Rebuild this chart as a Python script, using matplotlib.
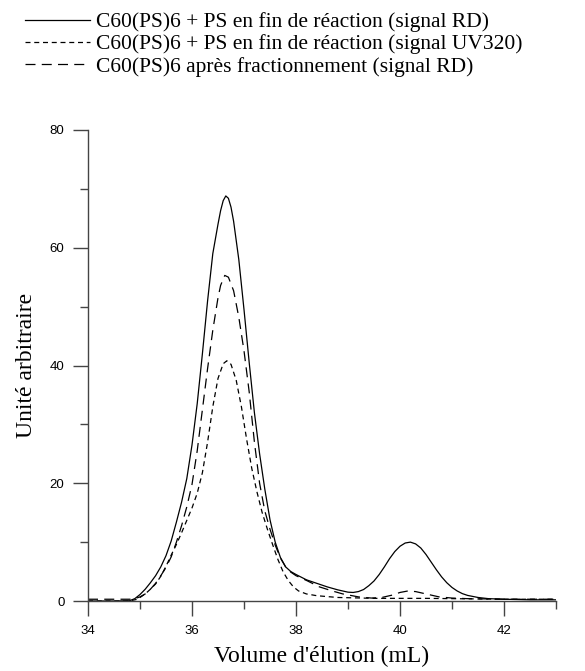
import matplotlib
matplotlib.use("Agg")
import matplotlib.pyplot as plt

# --- data (volume in mL, signal in arbitrary units) ---
vol_total = [34.0, 34.5, 34.8, 34.9, 35.0, 35.1, 35.2, 35.3, 35.4, 35.5, 35.6, 35.7,
             35.8, 35.9, 36.0, 36.1, 36.2, 36.3, 36.4, 36.5, 36.55, 36.6, 36.65, 36.7,
             36.75, 36.8, 36.9, 37.0, 37.1, 37.2, 37.3, 37.4, 37.5, 37.6, 37.7, 37.8,
             37.9, 38.0, 38.2, 38.4, 38.6, 38.8, 39.0, 39.1, 39.2, 39.3, 39.4, 39.5,
             39.6, 39.7, 39.8, 39.9, 40.0, 40.1, 40.2, 40.3, 40.4, 40.5, 40.6, 40.7,
             40.8, 40.9, 41.0, 41.1, 41.2, 41.3, 41.5, 41.7, 42.0, 42.5, 43.0]
rd_total = [0.0, 0.0, 0.05, 0.4, 1.1, 2.0, 3.1, 4.3, 5.8, 7.7, 10.2, 13.4,
            16.8, 20.8, 26.5, 33.5, 42.0, 51.0, 59.0, 64.0, 66.3, 68.0, 68.8, 68.4,
            66.9, 64.5, 58.0, 49.5, 40.5, 32.0, 25.0, 19.0, 13.8, 10.0, 7.4, 5.8,
            5.0, 4.5, 3.6, 3.0, 2.4, 1.9, 1.5, 1.45, 1.6, 1.95, 2.6, 3.4,
            4.5, 5.8, 7.2, 8.4, 9.3, 9.85, 10.0, 9.7, 9.0, 7.9, 6.6, 5.3,
            4.1, 3.1, 2.3, 1.7, 1.25, 0.95, 0.6, 0.4, 0.3, 0.2, 0.2]

vol_uv = [34.0, 34.8, 34.95, 35.1, 35.2, 35.3, 35.4, 35.5, 35.6, 35.7, 35.8, 35.9,
          36.0, 36.1, 36.2, 36.3, 36.4, 36.5, 36.6, 36.67, 36.75, 36.85, 36.95, 37.05,
          37.15, 37.25, 37.35, 37.45, 37.55, 37.65, 37.75, 37.85, 37.95, 38.05, 38.2,
          38.4, 38.8, 39.5, 40.0, 40.5, 41.0, 42.0, 43.0]
uv320 = [0.0, 0.0, 0.3, 1.2, 2.0, 2.9, 4.2, 5.9, 7.8, 9.6, 11.6, 13.7,
         15.8, 18.3, 21.8, 27.0, 33.0, 37.8, 40.3, 40.8, 40.2, 37.5, 33.0, 27.5,
         22.5, 18.5, 15.0, 12.2, 9.6, 7.1, 5.0, 3.5, 2.4, 1.7, 1.2,
         0.9, 0.6, 0.45, 0.45, 0.45, 0.4, 0.3, 0.3]

vol_frac = [34.0, 34.8, 34.9, 35.0, 35.1, 35.2, 35.3, 35.4, 35.5, 35.6, 35.7, 35.8,
            35.9, 36.0, 36.1, 36.2, 36.3, 36.4, 36.5, 36.55, 36.63, 36.7, 36.8, 36.9,
            37.0, 37.1, 37.2, 37.3, 37.4, 37.5, 37.6, 37.7, 37.8, 37.9, 38.0, 38.2,
            38.45, 38.7, 38.9, 39.2, 39.45, 39.65, 39.85, 40.0, 40.15, 40.3, 40.5,
            40.75, 41.0, 41.3, 42.0, 43.0]
rd_frac = [0.3, 0.3, 0.4, 0.7, 1.2, 2.0, 3.0, 4.3, 5.7, 7.5, 10.0, 12.8,
           16.0, 19.8, 25.5, 32.5, 39.5, 46.0, 51.5, 53.6, 55.3, 55.0, 52.7, 48.2,
           42.5, 35.5, 27.0, 20.0, 15.3, 12.2, 9.5, 7.3, 5.8, 4.9, 4.3, 3.5,
           2.4, 1.7, 1.2, 0.7, 0.5, 0.6, 1.0, 1.45, 1.7, 1.6, 1.2,
           0.7, 0.5, 0.4, 0.3, 0.3]

labels = ["C60(PS)6 + PS en fin de réaction (signal RD)",
          "C60(PS)6 + PS en fin de réaction (signal UV320)",
          "C60(PS)6 après fractionnement (signal RD)"]

SERIF = "Liberation Serif"
SANS = "Liberation Sans"

fig = plt.figure(figsize=(5.85, 6.71), dpi=100)
ax = fig.add_axes([88 / 585, 1 - 601 / 671, 468 / 585, 471 / 671])

ax.plot(vol_total, rd_total, color="black", lw=0.9, label=labels[0])
ax.plot(vol_uv, uv320, color="black", lw=0.9, dashes=(4, 3), label=labels[1])
ax.plot(vol_frac, rd_frac, color="black", lw=0.9, dashes=(8, 5), label=labels[2])

ax.set_xlim(34, 43)
ax.set_ylim(0, 80)
ax.set_xticks([34, 36, 38, 40, 42])
ax.set_xticks([35, 37, 39, 41, 43], minor=True)
ax.set_yticks([0, 20, 40, 60, 80])
ax.set_yticks([10, 30, 50, 70], minor=True)

for side in ["top", "right"]:
    ax.spines[side].set_visible(False)
for side in ["left", "bottom"]:
    ax.spines[side].set_color("#444444")
    ax.spines[side].set_linewidth(1.0)

ax.tick_params(which="major", direction="out", length=11, width=1.0, color="#444444",
               labelsize=9.5, pad=6)
ax.tick_params(which="minor", direction="out", length=5.5, width=1.0, color="#444444")
for lab in ax.get_xticklabels() + ax.get_yticklabels():
    lab.set_fontfamily(SANS)

ax.set_xlabel("Volume d'élution (mL)", fontfamily=SERIF, fontsize=17, labelpad=7)
ax.set_ylabel("Unité arbitraire", fontfamily=SERIF, fontsize=17, labelpad=9)

ax.legend(loc="upper left", bbox_to_anchor=(25 / 585, 1 - 12 / 671),
          bbox_transform=fig.transFigure, frameon=False, borderpad=0,
          borderaxespad=0, handlelength=3.0, handletextpad=0.3, labelspacing=0.1,
          prop={"family": SERIF, "size": 15.5})

fig.savefig("out.png", dpi=100)
